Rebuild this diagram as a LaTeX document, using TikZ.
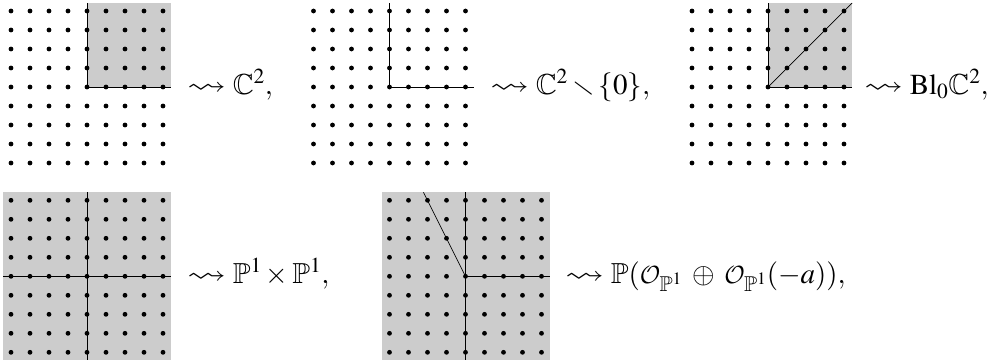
\documentclass[tikz,border=0pt]{standalone}
\usepackage{amssymb}
\usepackage{mathptmx}
\usepackage{graphicx}
\DeclareMathAlphabet{\mathcal}{OMS}{cmsy}{m}{n}
\newcommand\wleadsto{\mathrel{\scalebox{1.35}[1]{$\leadsto$}}}
\newcommand\latticedots[2]{%
  \foreach \i in {-4,...,4}{\foreach \j in {-4,...,4}{\fill (#1+19*\i,#2+19*\j) circle (2.4pt);}}}
\begin{document}
\begin{tikzpicture}[x=1pt,y=-1pt,
  region/.style={fill=black!20},
  axisline/.style={line width=1pt},
  thinline/.style={line width=0.7pt},
  lbl/.style={anchor=base west,inner sep=0pt,font=\fontsize{29}{35}\selectfont}]
\useasboundingbox (0,0) rectangle (988,360);
% panel 1
\fill[region] (87,3) rectangle (171,87);
\draw[axisline] (87,3) -- (87,87) -- (171,87);
\latticedots{87}{87}
\node[lbl] (l1) at (187,94) {$\wleadsto \mathbb{C}^2,$};
% panel 2
\draw[axisline] (389.5,3) -- (389.5,87) -- (473.5,87);
\latticedots{389.5}{87}
\node[lbl] (l2) at (490,94) {$\wleadsto \mathbb{C}^2\smallsetminus\{0\},$};
% panel 3
\fill[region] (768,3) rectangle (852,87);
\draw[axisline] (768,3) -- (768,87) -- (852,87);
\draw[thinline] (768,87) -- (852,3);
\latticedots{768}{87}
\node[lbl] (l3) at (864,94) {$\wleadsto \mathrm{Bl}_0\mathbb{C}^2,$};
% panel 4
\fill[region] (3,192.3) rectangle (171,360.3);
\draw[axisline] (87,192.3) -- (87,360.3);
\draw[axisline] (3,276.3) -- (171,276.3);
\latticedots{87}{276.3}
\node[lbl] (l4) at (187,283.3) {$\wleadsto \mathbb{P}^1\times\mathbb{P}^1,$};
% panel 5
\fill[region] (381.5,192.3) rectangle (549.5,360.3);
\draw[axisline] (465.5,192.3) -- (465.5,360.3);
\draw[axisline] (465.5,276.3) -- (549.5,276.3);
\draw[thinline] (465.5,276.3) -- (423.5,192.3);
\latticedots{465.5}{276.3}
\node[lbl] (l5) at (565,283.3) {$\medmuskip=6mu plus 2mu minus 4mu\wleadsto \mathbb{P}(\mathcal{O}_{\mathbb{P}^1}\oplus\mathcal{O}_{\mathbb{P}^1}(-a)),$};
\end{tikzpicture}
\end{document}
